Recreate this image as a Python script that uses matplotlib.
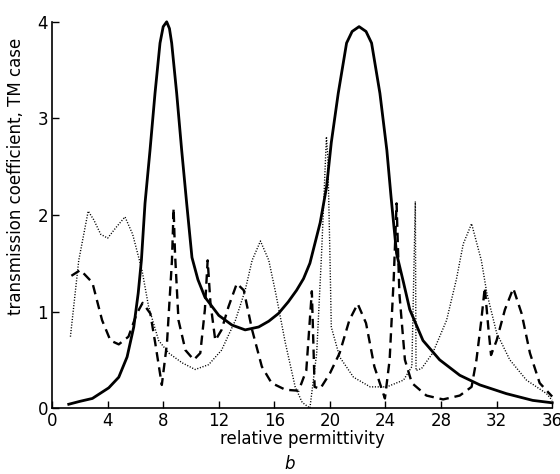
import matplotlib
matplotlib.use("Agg")
import matplotlib.pyplot as plt

# solid curve
solid_x = [1.2, 2.0, 2.9, 4.08, 4.8, 5.4, 5.88, 6.2, 6.43, 6.69, 7.05, 7.41, 7.77, 8.0, 8.25,
           8.45, 8.61, 8.97, 9.33, 9.69, 10.07, 10.5, 11.0, 12.0, 12.95, 13.9, 14.87, 15.6,
           16.3, 17.0, 17.6, 18.1, 18.56, 19.3, 19.76, 20.1, 20.6, 21.2, 21.6, 22.1, 22.6, 23.0,
           23.6, 24.1, 24.4, 24.8, 25.3, 25.75, 26.7, 27.9, 29.35, 30.8, 32.7, 34.6, 36.0]
solid_y = [0.04, 0.07, 0.10, 0.21, 0.32, 0.53, 0.84, 1.19, 1.53, 2.12, 2.67, 3.26, 3.78, 3.95, 4.00,
           3.93, 3.78, 3.26, 2.67, 2.12, 1.56, 1.33, 1.15, 0.96, 0.86, 0.81, 0.84, 0.90,
           0.98, 1.10, 1.22, 1.34, 1.50, 1.92, 2.29, 2.75, 3.26, 3.78, 3.90, 3.95, 3.90, 3.78,
           3.26, 2.67, 2.19, 1.60, 1.30, 1.02, 0.70, 0.50, 0.34, 0.24, 0.15, 0.08, 0.055]

# dotted curve
dot_x = [1.32, 1.92, 2.6, 3.0, 3.5, 4.0, 4.6, 5.25, 5.8, 6.47, 6.95, 7.67, 8.4, 9.35, 10.3,
         11.27, 12.2, 13.2, 13.9, 14.4, 15.0, 15.6, 16.1, 16.8, 17.5, 18.0, 18.56, 19.05,
         19.4, 19.75, 19.85, 20.0, 20.1, 20.7, 21.7, 22.9, 24.1, 25.3, 25.9, 26.15, 26.2,
         26.6, 27.4, 28.4, 29.1, 29.6, 30.2, 30.9, 31.3, 32.0, 32.95, 34.15, 35.6, 36.0]
dot_y = [0.74, 1.53, 2.04, 1.95, 1.80, 1.76, 1.87, 1.98, 1.80, 1.43, 1.05, 0.70, 0.57, 0.47, 0.40,
         0.45, 0.60, 0.91, 1.22, 1.53, 1.73, 1.53, 1.19, 0.67, 0.22, 0.06, 0.00, 0.57,
         1.60, 2.81, 2.60, 1.60, 0.84, 0.53, 0.32, 0.22, 0.22, 0.29, 0.43, 2.14, 0.39,
         0.41, 0.57, 0.91, 1.33, 1.70, 1.91, 1.53, 1.19, 0.78, 0.50, 0.29, 0.15, 0.08]

# dashed curve
dash_x = [1.39, 2.04, 2.9, 3.6, 4.2, 4.8, 5.5, 6.1, 6.52, 7.07, 7.43, 7.9, 8.27, 8.63, 8.75,
          8.85, 9.1, 9.6, 10.2, 10.67, 11.0, 11.2, 11.4, 11.75, 12.2, 12.7, 13.3, 13.8,
          14.4, 15.1, 15.8, 16.8, 17.75, 18.3, 18.7, 18.9, 19.3, 20.0, 20.7, 21.4, 22.0,
          22.6, 23.2, 23.96, 24.3, 24.6, 24.8, 25.0, 25.4, 25.9, 26.95, 28.15, 29.35, 30.2,
          30.55, 30.9, 31.15, 31.4, 31.6, 32.0, 32.6, 33.2, 33.8, 34.4, 35.1, 36.0]
dash_y = [1.37, 1.43, 1.30, 0.91, 0.70, 0.66, 0.74, 0.98, 1.09, 0.98, 0.67, 0.24, 0.67, 1.53, 2.07,
          1.60, 0.91, 0.60, 0.50, 0.57, 1.02, 1.53, 1.09, 0.70, 0.81, 1.05, 1.29, 1.22,
          0.81, 0.43, 0.26, 0.19, 0.18, 0.39, 1.21, 0.22, 0.20, 0.36, 0.57, 0.91, 1.08,
          0.88, 0.43, 0.10, 0.50, 1.36, 2.12, 1.19, 0.50, 0.26, 0.13, 0.09, 0.13, 0.22,
          0.50, 0.91, 1.25, 0.84, 0.55, 0.70, 1.02, 1.24, 0.98, 0.57, 0.26, 0.12]

x_ticks = [0, 4, 8, 12, 16, 20, 24, 28, 32, 36]
y_ticks = [0, 1, 2, 3, 4]

fig = plt.figure(figsize=(5.6, 4.74), dpi=100)
ax = fig.add_axes([0.093, 0.139, 0.893, 0.815])

ax.plot(solid_x, solid_y, color="black", lw=2.0, clip_on=False)
ax.plot(dash_x, dash_y, color="black", lw=1.7, dashes=(4, 2.5), clip_on=False)
ax.plot(dot_x, dot_y, color="black", lw=1.0, dashes=(0.8, 1.2), clip_on=False)

ax.set_xlim(0, 36)
ax.set_ylim(0, 4)
ax.set_xticks(x_ticks)
ax.set_yticks(y_ticks)
ax.tick_params(direction="in", length=5, width=1, labelsize=12, pad=3)

ax.spines["top"].set_visible(False)
ax.spines["right"].set_visible(False)
ax.spines["left"].set_linewidth(1.2)
ax.spines["bottom"].set_linewidth(1.2)

ax.set_xlabel("relative permittivity", fontsize=12, labelpad=0)
ax.set_ylabel("transmission coefficient, TM case", fontsize=12)
ax.yaxis.set_label_coords(-0.055, 0.60)
fig.text(0.518, 0.022, "b", fontsize=12, style="italic", ha="center", va="center")

fig.savefig("out.png", dpi=100)
